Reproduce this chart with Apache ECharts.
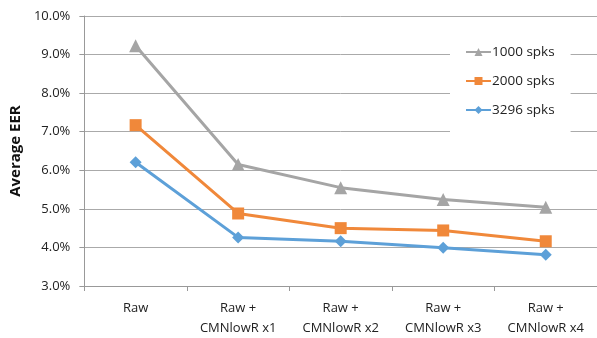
<!DOCTYPE html>
<html><head><meta charset="utf-8">
<script src="https://cdn.jsdelivr.net/npm/echarts@6/dist/echarts.min.js"></script>
<style>html,body{margin:0;padding:0;background:#fff}#c{width:597px;height:338px}</style>
</head><body><div id="c"></div>
<script>
const categories = ['Raw', 'Raw +\nCMNlowR x1', 'Raw +\nCMNlowR x2', 'Raw +\nCMNlowR x3', 'Raw +\nCMNlowR x4'];
const s1000 = [9.23, 6.15, 5.55, 5.24, 5.04];
const s2000 = [7.17, 4.88, 4.50, 4.44, 4.16];
const s3296 = [6.21, 4.26, 4.16, 3.99, 3.81];
const seriesNames = ['1000 spks', '2000 spks', '3296 spks'];
const yTicks = { min: 3, max: 10, interval: 1 };

const chart = echarts.init(document.getElementById('c'));
const font = 'Open Sans, Lato, sans-serif';
function mk(name, data, color, symbol, size) {
  return { name, type: 'line', data, symbol, symbolSize: size,
    lineStyle: { color, width: 3 }, itemStyle: { color }, z: 3 };
}
chart.setOption({
  animation: false,
  textStyle: { fontFamily: font },
  grid: { left: 82, right: 0, top: 16, bottom: 46 },
  legend: {
    orient: 'vertical', left: 450, top: 30, itemGap: 15,
    itemWidth: 25, itemHeight: 10,
    backgroundColor: '#fff', padding: [15, 16, 15, 15],
    textStyle: { fontSize: 13.5, color: '#222', fontFamily: font, padding: [0, 0, 0, -4] },
    data: seriesNames
  },
  xAxis: {
    type: 'category', data: categories, boundaryGap: true,
    axisLine: { lineStyle: { color: '#999' } },
    axisTick: { show: true, length: 5, lineStyle: { color: '#999' } },
    axisLabel: { fontSize: 13, color: '#222', margin: 12, lineHeight: 20, fontFamily: font }
  },
  yAxis: {
    type: 'value', min: yTicks.min, max: yTicks.max, interval: yTicks.interval,
    name: 'Average EER', nameLocation: 'middle', nameGap: 60,
    nameTextStyle: { fontSize: 15, fontWeight: 'bold', color: '#111', fontFamily: font },
    axisLine: { show: true, lineStyle: { color: '#999' } },
    axisTick: { show: true, length: 5, inside: false, lineStyle: { color: '#999' } },
    splitLine: { lineStyle: { color: '#aaa', width: 1 } },
    axisLabel: { fontSize: 13, color: '#222', margin: 14, formatter: v => v.toFixed(1) + '%', fontFamily: font }
  },
  series: [
    mk(seriesNames[0], s1000, '#A5A5A5', 'triangle', 13),
    mk(seriesNames[1], s2000, '#F0883A', 'rect', 12),
    mk(seriesNames[2], s3296, '#5DA0D8', 'diamond', 12)
  ]
});
</script></body></html>
